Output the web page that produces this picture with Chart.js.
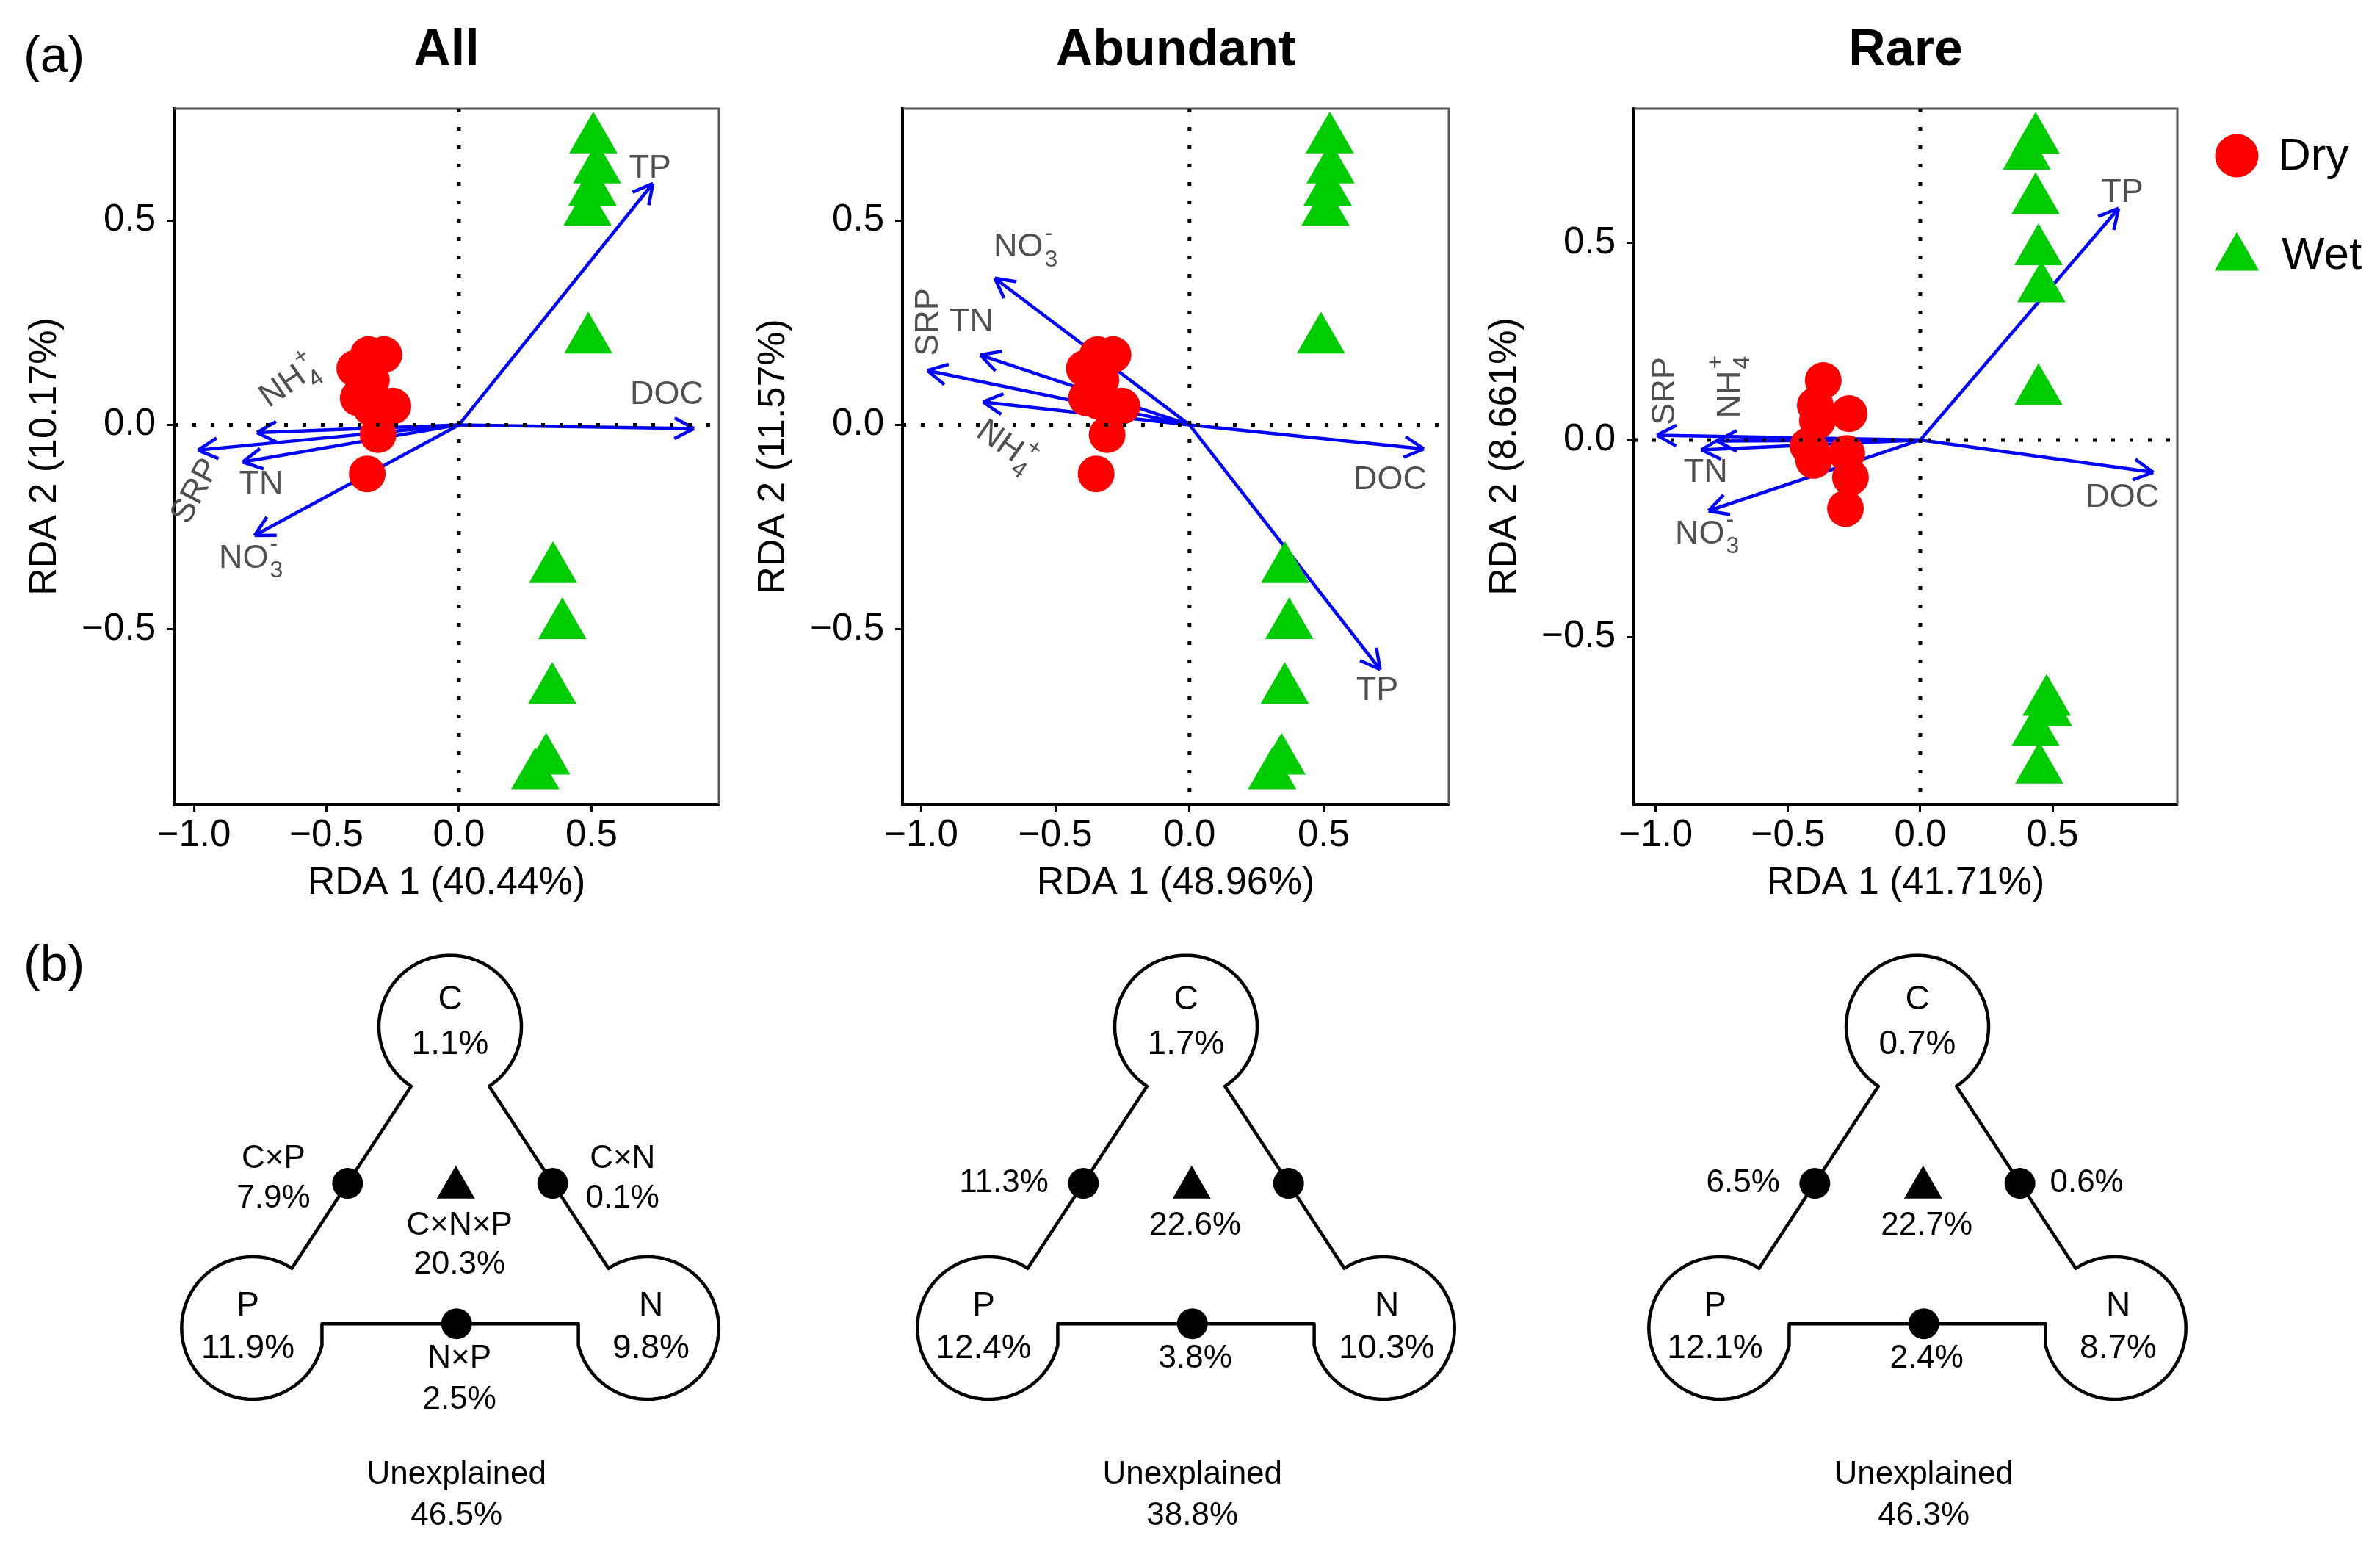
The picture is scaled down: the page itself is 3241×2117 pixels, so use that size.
<!DOCTYPE html>
<html>
<head>
<meta charset="utf-8">
<script src="https://cdn.jsdelivr.net/npm/chart.js@4.4.1/dist/chart.umd.min.js"></script>
<style>
  html, body { margin: 0; padding: 0; background: #fff; }
  body { width: 3241px; height: 2117px; position: relative; overflow: hidden;
         font-family: 'Liberation Sans', Arial, sans-serif; }
  canvas { position: absolute; }
  .tag { position: absolute; font-size: 68px; line-height: 1; color: #000; }
</style>
</head>
<body>
<div class="tag" style="left:32px; top:40px">(a)</div>
<div class="tag" style="left:32px; top:1277px">(b)</div>

<canvas id="rda-all" width="1000" height="1250" style="left:0px; top:0px"></canvas>
<canvas id="rda-abundant" width="1000" height="1250" style="left:992px; top:0px"></canvas>
<canvas id="rda-rare" width="1253" height="1250" style="left:1988px; top:0px"></canvas>

<canvas id="vp-all" width="1040" height="867" style="left:100px; top:1250px"></canvas>
<canvas id="vp-abundant" width="1040" height="867" style="left:1102px; top:1250px"></canvas>
<canvas id="vp-rare" width="1040" height="867" style="left:2098px; top:1250px"></canvas>

<script>
// --- Data ---
const panelTitles = ['All', 'Abundant', 'Rare'];
const rdaXTitles = ['RDA 1 (40.44%)', 'RDA 1 (48.96%)', 'RDA 1 (41.71%)'];
const rdaYTitles = ['RDA 2 (10.17%)', 'RDA 2 (11.57%)', 'RDA 2 (8.661%)'];
const xTickValues = [-1, -0.5, 0, 0.5];
const xTickLabels = ['\u22121.0', '\u22120.5', '0.0', '0.5'];
const yTickValues = [-0.5, 0, 0.5];
const yTickLabels = ['\u22120.5', '0.0', '0.5'];
const groups = ['Dry', 'Wet'];

// site scores
const allDryX = [-0.341, -0.283, -0.393, -0.36, -0.38, -0.249, -0.332, -0.305, -0.346, -0.33];
const allDryY = [0.172, 0.172, 0.138, 0.096, 0.066, 0.046, 0.042, -0.024, -0.12, 0.11];
const allWetX = [0.507, 0.521, 0.504, 0.485, 0.488, 0.355, 0.39, 0.352, 0.329, 0.288];
const allWetY = [0.699, 0.625, 0.571, 0.522, 0.209, -0.353, -0.49, -0.649, -0.822, -0.858];

const abunDryX = [-0.342, -0.285, -0.392, -0.348, -0.384, -0.252, -0.337, -0.307, -0.348, -0.33];
const abunDryY = [0.172, 0.172, 0.138, 0.1, 0.066, 0.046, 0.057, -0.024, -0.12, 0.11];
const abunWetX = [0.523, 0.526, 0.515, 0.507, 0.49, 0.356, 0.372, 0.355, 0.343, 0.308];
const abunWetY = [0.699, 0.625, 0.571, 0.522, 0.209, -0.353, -0.49, -0.649, -0.822, -0.858];

const rareDryX = [-0.367, -0.397, -0.269, -0.389, -0.425, -0.403, -0.278, -0.264, -0.283, -0.41];
const rareDryY = [0.151, 0.088, 0.067, 0.049, -0.015, -0.052, -0.034, -0.095, -0.174, -0.03];
const rareWetX = [0.436, 0.403, 0.436, 0.447, 0.458, 0.447, 0.478, 0.483, 0.436, 0.45];
const rareWetY = [0.762, 0.721, 0.609, 0.479, 0.385, 0.124, -0.665, -0.691, -0.742, -0.837];

// environmental arrows (biplot scores)
const envVars = ['TP', 'DOC', 'NH4+', 'SRP', 'TN', 'NO3-'];
const allEnvX = [0.732, 0.887, -0.762, -0.984, -0.816, -0.771];
const allEnvY = [0.591, -0.009, -0.019, -0.062, -0.091, -0.271];
const abunEnvX = [0.711, 0.874, -0.77, -0.977, -0.78, -0.726];
const abunEnvY = [-0.599, -0.059, 0.056, 0.133, 0.171, 0.359];
const rareEnvX = [0.75, 0.881, -0.768, -0.996, -0.828, -0.801];
const rareEnvY = [0.588, -0.082, -0.003, 0.012, -0.025, -0.18];

// variation partitioning (%)
const vpParts = ['C', 'N', 'P', 'C\u00d7N', 'C\u00d7P', 'N\u00d7P', 'C\u00d7N\u00d7P', 'Unexplained'];
const vpAll = [1.1, 9.8, 11.9, 0.1, 7.9, 2.5, 20.3, 46.5];
const vpAbundant = [1.7, 10.3, 12.4, null, 11.3, 3.8, 22.6, 38.8];
const vpRare = [0.7, 8.7, 12.1, 0.6, 6.5, 2.4, 22.7, 46.3];

// --- Styling / layout ---
const FONT = "'Liberation Sans', Arial, sans-serif";
Chart.defaults.font.family = FONT;
const dryColor = '#ff0000';
const wetColor = '#00cd00';
const arrowColor = '#0000ff';
const labelColor = '#505050';

// pixel offset [dx, dy, rotation deg] of each arrow label from its tip, order as envVars
const allLabelPos = [[-4, -20, 0], [-37, -46, 0], [44, -68, -35], [-3, 56, -62], [25, 31, 0], [-5, 31, 0]];
const abunLabelPos = [[-4, 29, 0], [-46, 42, 0], [31, 60, 35], [2, -66, -90], [-12, -45, 0], [42, -42, 0]];
const rareLabelPos = [[5, -21, 0], [-42, 35, 0], [18, -74, -90], [11, -60, -90], [6, 31, 0], [-2, 32, 0]];

function drawArrow(ctx, x0, y0, x1, y1) {
    const ang = Math.atan2(y1 - y0, x1 - x0);
    const len = 30, spread = 28 * Math.PI / 180;
    ctx.beginPath();
    ctx.moveTo(x0, y0);
    ctx.lineTo(x1, y1);
    [-1, 1].forEach(function (s) {
        ctx.moveTo(x1, y1);
        ctx.lineTo(x1 - len * Math.cos(ang + s * spread), y1 - len * Math.sin(ang + s * spread));
    });
    ctx.stroke();
}

// label with optional chemical subscript / superscript (NO3-, NH4+)
function drawEnvLabel(ctx, name, x, y, rot) {
    const m = name.match(/^(N[HO])(\d)([+-])$/);
    const main = m ? m[1] : name;
    const size = 45, small = 32;
    ctx.save();
    ctx.translate(x, y);
    ctx.rotate(rot * Math.PI / 180);
    ctx.fillStyle = labelColor;
    ctx.textBaseline = 'middle';
    ctx.textAlign = 'left';
    ctx.font = size + 'px ' + FONT;
    const wMain = ctx.measureText(main).width;
    let wSmall = 0;
    if (m) {
        ctx.font = small + 'px ' + FONT;
        wSmall = Math.max(ctx.measureText(m[2]).width, ctx.measureText(m[3]).width) + 2;
    }
    const x0 = -(wMain + wSmall) / 2;
    ctx.font = size + 'px ' + FONT;
    ctx.fillText(main, x0, 0);
    if (m) {
        ctx.font = small + 'px ' + FONT;
        ctx.fillText(m[2], x0 + wMain + 2, size * 0.38);
        ctx.fillText(m[3], x0 + wMain + 2, -size * 0.42);
    }
    ctx.restore();
}

function rdaDecor(envX, envY, labelPos, withLegend) {
    return {
        id: 'rdaDecor',
        beforeDatasetsDraw(chart) {
            const { ctx, chartArea: a, scales: { x, y } } = chart;
            ctx.save();
            // thin grey top/right frame
            ctx.strokeStyle = '#555';
            ctx.lineWidth = 3;
            ctx.beginPath();
            ctx.moveTo(a.left, a.top);
            ctx.lineTo(a.right, a.top);
            ctx.lineTo(a.right, a.bottom);
            ctx.stroke();
            // arrows under the points
            const ox = x.getPixelForValue(0), oy = y.getPixelForValue(0);
            ctx.strokeStyle = arrowColor;
            ctx.lineWidth = 4.5;
            envX.forEach(function (vx, i) {
                const tx = x.getPixelForValue(vx), ty = y.getPixelForValue(envY[i]);
                drawArrow(ctx, ox, oy, tx, ty);
                drawEnvLabel(ctx, envVars[i], tx + labelPos[i][0], ty + labelPos[i][1], labelPos[i][2]);
            });
            ctx.restore();
        },
        afterDatasetsDraw(chart) {
            const { ctx, chartArea: a, scales: { x, y } } = chart;
            const ox = x.getPixelForValue(0), oy = y.getPixelForValue(0);
            ctx.save();
            ctx.strokeStyle = '#000';
            ctx.lineWidth = 5;
            ctx.setLineDash([5, 20]);
            ctx.beginPath();
            ctx.moveTo(a.left, oy); ctx.lineTo(a.right, oy);
            ctx.moveTo(ox, a.top); ctx.lineTo(ox, a.bottom);
            ctx.stroke();
            ctx.restore();
        },
        afterDraw(chart) {
            if (!withLegend) return;
            const { ctx, chartArea: a } = chart;
            const cx = a.right + 81;
            ctx.save();
            ctx.fillStyle = dryColor;
            ctx.beginPath();
            ctx.arc(cx, 212, 29.5, 0, Math.PI * 2);
            ctx.fill();
            const r = 35, ty = 351;
            ctx.fillStyle = wetColor;
            ctx.beginPath();
            ctx.moveTo(cx, ty - r);
            ctx.lineTo(cx + r * Math.sin(2 * Math.PI / 3), ty + r / 2);
            ctx.lineTo(cx - r * Math.sin(2 * Math.PI / 3), ty + r / 2);
            ctx.closePath();
            ctx.fill();
            ctx.fillStyle = '#000';
            ctx.font = '62px ' + FONT;
            ctx.textBaseline = 'middle';
            ctx.textAlign = 'left';
            ctx.fillText(groups[0], a.right + 137, 214);
            ctx.fillText(groups[1], a.right + 142, 349);
            ctx.restore();
        }
    };
}

function toPoints(xs, ys) {
    return xs.map(function (v, i) { return { x: v, y: ys[i] }; });
}

function makeRda(id, idx, dryX, dryY, wetX, wetY, envX, envY, labelPos, range, padRight, withLegend) {
    new Chart(document.getElementById(id), {
        type: 'scatter',
        data: {
            datasets: [
                { label: groups[0], data: toPoints(dryX, dryY), pointStyle: 'circle', pointRadius: 25,
                  backgroundColor: dryColor, borderWidth: 0 },
                { label: groups[1], data: toPoints(wetX, wetY), pointStyle: 'triangle', pointRadius: 38,
                  backgroundColor: wetColor, borderWidth: 0 }
            ]
        },
        options: {
            responsive: false,
            animation: false,
            devicePixelRatio: 1,
            events: [],
            layout: { padding: { left: 0, top: 0, bottom: 0, right: padRight }, autoPadding: false },
            clip: false,
            scales: {
                x: {
                    type: 'linear', min: range[0], max: range[1],
                    afterBuildTicks: function (s) { s.ticks = xTickValues.map(function (v) { return { value: v }; }); },
                    afterFit: function (s) { s.height = 155; },
                    ticks: { callback: function (v, i) { return xTickLabels[i]; }, font: { size: 51 }, color: '#000',
                             padding: 2, autoSkip: false, maxRotation: 0 },
                    grid: { drawOnChartArea: false, drawTicks: true, tickLength: 10, tickWidth: 3, tickColor: '#000' },
                    border: { display: true, color: '#000', width: 4 },
                    title: { display: true, text: rdaXTitles[idx], font: { size: 52 }, color: '#000',
                             padding: { top: 0, bottom: 16 } }
                },
                y: {
                    type: 'linear', min: range[2], max: range[3],
                    afterBuildTicks: function (s) { s.ticks = yTickValues.map(function (v) { return { value: v }; }); },
                    afterFit: function (s) { s.width = 237; },
                    ticks: { callback: function (v, i) { return yTickLabels[i]; }, font: { size: 51 }, color: '#000',
                             padding: 15, autoSkip: false },
                    grid: { drawOnChartArea: false, drawTicks: true, tickLength: 10, tickWidth: 3, tickColor: '#000' },
                    border: { display: true, color: '#000', width: 4 },
                    title: { display: true, text: rdaYTitles[idx], font: { size: 52 }, color: '#000',
                             padding: { top: 30, bottom: 0 } }
                }
            },
            plugins: {
                legend: { display: false },
                tooltip: { enabled: false },
                title: { display: true, text: panelTitles[idx], fullSize: false, color: '#000',
                         font: { size: 70, weight: 'bold' }, padding: { top: 28, bottom: 36 } }
            }
        },
        plugins: [rdaDecor(envX, envY, labelPos, withLegend)]
    });
}

makeRda('rda-all', 0, allDryX, allDryY, allWetX, allWetY, allEnvX, allEnvY, allLabelPos,
        [-1.075, 0.981, -0.929, 0.774], 21, false);
makeRda('rda-abundant', 1, abunDryX, abunDryY, abunWetX, abunWetY, abunEnvX, abunEnvY, abunLabelPos,
        [-1.07, 0.967, -0.929, 0.774], 19, false);
makeRda('rda-rare', 2, rareDryX, rareDryY, rareWetX, rareWetY, rareEnvX, rareEnvY, rareLabelPos,
        [-1.083, 0.972, -0.925, 0.841], 276, true);

// --- (b) variation partitioning schematic, drawn in a unit space (circle radius = 1) ---
const vpNodeX = [0, -2.77, 2.77];     // C, P, N
const vpNodeY = [2.2, -2.03, -2.03];
const vpDotX = [-1.44, 1.44, 0.09];   // C×P, C×N, N×P
const vpDotY = [0, 0, -1.97];
// text anchors per vpParts entry: [x, nameY, valueY, bareValueY, bareAlign, bareX]
const vpText = [
    [0, 2.57, 1.95],
    [2.82, -1.72, -2.32],
    [-2.84, -1.72, -2.32],
    [2.42, 0.34, -0.21, 0, 'left', 1.86],
    [-2.48, 0.34, -0.21, 0, 'right', -1.93],
    [0.13, -2.46, -3.04, -2.46, 'center', 0.13],
    [0.13, -0.6, -1.14, -0.6, 'center', 0.13],
    [0.09, -4.09, -4.67]
];

function vpDecor(values, showNames) {
    return {
        id: 'vpDecor',
        beforeDatasetsDraw(chart) {
            const { ctx, scales: { x, y } } = chart;
            const px = function (u) { return x.getPixelForValue(u); };
            const py = function (v) { return y.getPixelForValue(v); };
            const C = [vpNodeX[0], vpNodeY[0]], P = [vpNodeX[1], vpNodeY[1]], N = [vpNodeX[2], vpNodeY[2]];
            const ang = function (a, b) { return Math.atan2(b[1] - a[1], b[0] - a[0]); };
            const pts = [];
            const arc = function (c, a0, a1) {
                const n = 90;
                for (let k = 0; k <= n; k++) {
                    const t = a0 + (a1 - a0) * k / n;
                    pts.push([c[0] + Math.cos(t), c[1] + Math.sin(t)]);
                }
            };
            const b = Math.acos(0.97);
            arc(C, ang(C, N), ang(C, P) + 2 * Math.PI);
            arc(P, ang(P, C), 2 * Math.PI - b);
            pts.push([P[0] + 0.97, P[1] + 0.06]);
            pts.push([N[0] - 0.97, N[1] + 0.06]);
            arc(N, Math.PI + b, ang(N, C) + 2 * Math.PI);
            ctx.save();
            ctx.strokeStyle = '#000';
            ctx.lineWidth = 4.5;
            ctx.lineJoin = 'round';
            ctx.beginPath();
            pts.forEach(function (p, i) {
                if (i === 0) ctx.moveTo(px(p[0]), py(p[1])); else ctx.lineTo(px(p[0]), py(p[1]));
            });
            ctx.closePath();
            ctx.stroke();

            ctx.fillStyle = '#000';
            ctx.textBaseline = 'middle';
            values.forEach(function (v, i) {
                const t = vpText[i];
                const val = v === null ? null : v.toFixed(1) + '%';
                const circle = i < 3;
                ctx.font = (circle ? 46 : 44) + 'px ' + FONT;
                if (circle || i === 7 || showNames) {
                    ctx.textAlign = 'center';
                    ctx.fillText(vpParts[i], px(t[0]), py(t[1]));
                    if (val) ctx.fillText(val, px(t[0]), py(t[2]));
                } else if (val) {
                    ctx.textAlign = t[4];
                    ctx.fillText(val, px(t[5]), py(t[3]));
                }
            });
            ctx.restore();
        }
    };
}

function makeVp(id, values, showNames) {
    new Chart(document.getElementById(id), {
        type: 'scatter',
        data: {
            datasets: [
                { data: toPoints(vpDotX, vpDotY), pointStyle: 'circle', pointRadius: 21,
                  backgroundColor: '#000', borderWidth: 0 },
                { data: [{ x: 0.08, y: -0.06 }], pointStyle: 'triangle', pointRadius: 30,
                  backgroundColor: '#000', borderWidth: 0 }
            ]
        },
        options: {
            responsive: false,
            animation: false,
            devicePixelRatio: 1,
            events: [],
            layout: { padding: 0, autoPadding: false },
            scales: {
                x: { type: 'linear', display: false, min: -5.289, max: 5.433 },
                y: { type: 'linear', display: false, min: -5.216, max: 3.722 }
            },
            plugins: { legend: { display: false }, tooltip: { enabled: false } }
        },
        plugins: [vpDecor(values, showNames)]
    });
}

makeVp('vp-all', vpAll, true);
makeVp('vp-abundant', vpAbundant, false);
makeVp('vp-rare', vpRare, false);
</script>
</body>
</html>
